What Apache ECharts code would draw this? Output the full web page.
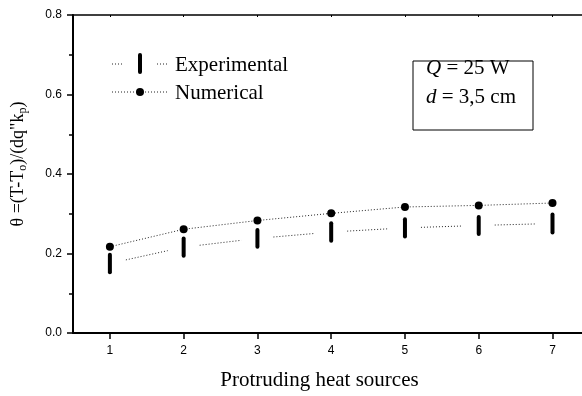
<!DOCTYPE html>
<html>
<head>
<meta charset="utf-8">
<script src="https://cdn.jsdelivr.net/npm/echarts@6/dist/echarts.min.js"></script>
<style>
    html, body { margin: 0; padding: 0; background: #fff; }
    #chart { width: 582px; height: 396px; }
</style>
</head>
<body>
<div id="chart"></div>
<script>
    // heat source positions and dimensionless temperature
    var sources = [1, 2, 3, 4, 5, 6, 7];
    var numerical = [0.217, 0.261, 0.283, 0.301, 0.317, 0.321, 0.327];
    var expLow = [0.148, 0.189, 0.212, 0.227, 0.238, 0.244, 0.248];
    var expHigh = [0.202, 0.243, 0.264, 0.281, 0.291, 0.297, 0.303];

    var serif = '"Liberation Serif", "Times New Roman", serif';
    var sans = '"Liberation Sans", Arial, sans-serif';
    var dots = [1, 2];

    var myChart = echarts.init(document.getElementById('chart'));

    var option = {
        animation: false,
        grid: { left: 73, top: 15, right: -3, bottom: 60 },
        xAxis: [
            {
                type: 'value',
                min: 0.5,
                max: 7.4,
                name: 'Protruding heat sources',
                nameLocation: 'middle',
                nameGap: 37,
                nameTextStyle: { fontFamily: serif, fontSize: 21, color: '#000', padding: [0, 16, 0, 0] },
                axisLine: { lineStyle: { color: '#000', width: 2 } },
                axisTick: { customValues: sources, length: 6, lineStyle: { color: '#000', width: 1.5 } },
                axisLabel: { customValues: sources, fontFamily: sans, fontSize: 12, color: '#000', margin: 12 },
                splitLine: { show: false }
            },
            {
                type: 'value',
                position: 'top',
                min: 0.5,
                max: 7.4,
                axisLine: { lineStyle: { color: '#000', width: 1.5 } },
                axisTick: { customValues: sources, inside: true, length: 2, lineStyle: { color: '#000' } },
                axisLabel: { show: false },
                splitLine: { show: false }
            }
        ],
        yAxis: {
            type: 'value',
            min: 0,
            max: 0.8,
            interval: 0.2,
            name: '{a|θ =(T-T}{s|o}{a|)/(dq"k}{s|p}{a|)}',
            nameLocation: 'middle',
            nameGap: 44,
            nameTextStyle: {
                padding: [0, 0, 0, 20],
                rich: {
                    a: { fontFamily: serif, fontSize: 18, color: '#000' },
                    s: { fontFamily: serif, fontSize: 12, color: '#000', padding: [10, 0, 0, 0] }
                }
            },
            axisLine: { show: true, lineStyle: { color: '#000', width: 2 } },
            axisTick: { show: true, length: 6, lineStyle: { color: '#000', width: 1.5 } },
            minorTick: { show: true, splitNumber: 2, length: 4, lineStyle: { color: '#000', width: 1.5 } },
            axisLabel: {
                fontFamily: sans, fontSize: 12, color: '#000', margin: 11,
                formatter: function (v) { return v.toFixed(1); }
            },
            splitLine: { show: false }
        },
        series: [
            {
                name: 'Experimental',
                type: 'custom',
                data: sources.map(function (x, i) { return [x, expLow[i], expHigh[i]]; }),
                encode: { x: 0, y: [1, 2] },
                renderItem: function (params, api) {
                    var i = params.dataIndex;
                    var lo = api.coord([sources[i], expLow[i]]);
                    var hi = api.coord([sources[i], expHigh[i]]);
                    var children = [{
                        type: 'line',
                        shape: { x1: lo[0], y1: lo[1] - 2, x2: hi[0], y2: hi[1] + 2 },
                        style: { stroke: '#000', lineWidth: 4, lineCap: 'round' }
                    }];
                    if (i < sources.length - 1) {
                        var a = api.coord([sources[i], (expLow[i] + expHigh[i]) / 2]);
                        var b = api.coord([sources[i + 1], (expLow[i + 1] + expHigh[i + 1]) / 2]);
                        var dx = b[0] - a[0], dy = b[1] - a[1];
                        var t = 16 / dx;
                        children.push({
                            type: 'line',
                            shape: { x1: a[0] + dx * t, y1: a[1] + dy * t, x2: b[0] - dx * t, y2: b[1] - dy * t },
                            style: { stroke: '#222', lineWidth: 1, lineDash: dots }
                        });
                    }
                    return { type: 'group', children: children };
                }
            },
            {
                name: 'Numerical',
                type: 'line',
                data: sources.map(function (x, i) { return [x, numerical[i]]; }),
                symbol: 'circle',
                symbolSize: 8,
                itemStyle: { color: '#000' },
                lineStyle: { color: '#222', width: 1, type: dots },
                z: 3
            }
        ],
        graphic: [
            // legend
            { type: 'line', shape: { x1: 112, y1: 64, x2: 123, y2: 64 }, style: { stroke: '#222', lineWidth: 1, lineDash: dots } },
            { type: 'line', shape: { x1: 140, y1: 55, x2: 140, y2: 72 }, style: { stroke: '#000', lineWidth: 4, lineCap: 'round' } },
            { type: 'line', shape: { x1: 157, y1: 64, x2: 168, y2: 64 }, style: { stroke: '#222', lineWidth: 1, lineDash: dots } },
            { type: 'text', x: 175, y: 65, style: { text: 'Experimental', font: '21px ' + serif, fill: '#000', verticalAlign: 'middle' } },
            { type: 'line', shape: { x1: 112, y1: 92, x2: 168, y2: 92 }, style: { stroke: '#222', lineWidth: 1, lineDash: dots } },
            { type: 'circle', shape: { cx: 140, cy: 92, r: 4 }, style: { fill: '#000' } },
            { type: 'text', x: 175, y: 93, style: { text: 'Numerical', font: '21px ' + serif, fill: '#000', verticalAlign: 'middle' } },
            // parameters box
            { type: 'rect', shape: { x: 413, y: 61, width: 120, height: 69 }, style: { fill: 'none', stroke: '#000', lineWidth: 1 } },
            {
                type: 'text', x: 426, y: 83,
                style: {
                    text: '{i|Q} = 25 W\n{i|d} = 3,5 cm',
                    font: '21px ' + serif, fill: '#000', verticalAlign: 'middle', lineHeight: 29,
                    rich: { i: { fontStyle: 'italic', fontFamily: serif, fontSize: 21 } }
                }
            }
        ]
    };

    myChart.setOption(option);
    window.addEventListener('resize', function () {
        myChart.resize();
    });
</script>
</body>
</html>
